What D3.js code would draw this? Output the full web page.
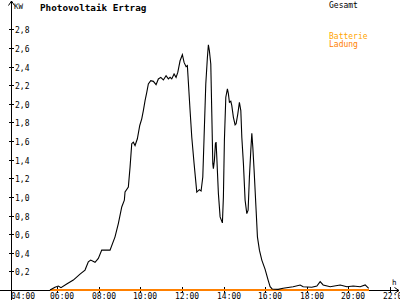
<!DOCTYPE html>
<html><head><meta charset="utf-8">
<script src="https://cdn.jsdelivr.net/npm/d3@7"></script>
<style>body{margin:0;background:#fff}svg{display:block}text{font-family:"DejaVu Sans Mono",monospace}</style>
</head><body><svg id="c" width="400" height="300"></svg>
<script>
// Gesamt (total power, kW) – time in hours
const gesamtTimes = [5.663,5.904,6.063,6.192,6.466,6.784,7.106,7.346,7.505,7.620,7.827,7.986,8.149,8.548,8.788,8.947,9.111,9.236,9.269,9.428,9.510,9.591,9.668,9.750,9.861,9.976,10.072,10.149,10.231,10.313,10.389,10.505,10.630,10.760,10.870,10.986,11.111,11.240,11.351,11.433,11.514,11.625,11.721,11.803,11.913,12.024,12.106,12.202,12.264,12.394,12.476,12.587,12.716,12.841,12.923,13.005,13.067,13.149,13.226,13.274,13.322,13.389,13.438,13.486,13.514,13.563,13.611,13.644,13.678,13.755,13.837,13.947,13.995,14.043,14.111,14.188,14.236,14.284,14.351,14.399,14.476,14.558,14.606,14.688,14.764,14.832,14.880,14.957,15.038,15.120,15.183,15.245,15.312,15.361,15.409,15.471,15.567,15.630,15.726,15.841,16.000,16.144,16.240,16.337,16.625,16.865,17.346,17.683,17.827,18.245,18.486,18.644,18.788,19.125,19.606,19.928,20.231,20.567,20.808,20.976];
const gesamtValues = [0,0.029,0.043,0.025,0.064,0.107,0.171,0.214,0.303,0.321,0.297,0.339,0.428,0.428,0.571,0.714,0.892,0.964,1.052,1.106,1.320,1.571,1.588,1.552,1.624,1.767,1.838,1.927,2.034,2.123,2.213,2.248,2.241,2.206,2.267,2.284,2.256,2.302,2.267,2.284,2.267,2.320,2.284,2.337,2.462,2.527,2.444,2.398,2.409,1.927,1.641,1.357,1.052,1.078,1.063,1.213,1.641,2.213,2.498,2.634,2.570,2.427,1.892,1.357,1.303,1.392,1.571,1.588,1.427,1.035,0.785,0.721,0.999,1.606,2.070,2.160,2.106,2.016,2.027,1.981,1.855,1.774,1.785,1.892,2.016,1.927,1.641,1.357,0.964,0.821,0.857,1.213,1.499,1.684,1.534,1.285,0.857,0.571,0.428,0.321,0.222,0.107,0.035,0.011,0.007,0.018,0.035,0.054,0.035,0.029,0.043,0.089,0.054,0.035,0.054,0.035,0.043,0.035,0.054,0.018];
// Ladung (charging) – flat zero
const ladungTimes = [5.663, 20.976];
const ladungValues = [0, 0];
const yTicks = [0.2,0.4,0.6,0.8,1.0,1.2,1.4,1.6,1.8,2.0,2.2,2.4,2.6,2.8];
const yTickLabels = ["0,2","0,4","0,6","0,8","1,0","1,2","1,4","1,6","1,8","2,0","2,2","2,4","2,6","2,8"];
const xTicks = [4,6,8,10,12,14,16,18,20,22];
const xTickLabels = ["04:00","06:00","08:00","10:00","12:00","14:00","16:00","18:00","20:00","22:00"];
const legendLabels = ["Gesamt","Batterie","Ladung"];
const legendColors = ["#000000","#ffa500","#ff8000"];

const svg = d3.select("#c");
const axX = 11.5, axY = 290.5;
const x = d3.scaleLinear().domain([6, 22]).range([57, 390]);
const y = d3.scaleLinear().domain([0, 2.8]).range([290, 29.3]);

const g = svg.append("g").attr("shape-rendering","crispEdges");
// axes lines
g.append("line").attr("x1",axX).attr("x2",axX).attr("y1",1).attr("y2",300).attr("stroke","#000");
g.append("line").attr("x1",0).attr("x2",399).attr("y1",axY).attr("y2",axY).attr("stroke","#000");
// arrows
svg.append("path").attr("d",`M${axX-3},5.5 L${axX},1 L${axX+3},5.5`).attr("fill","none").attr("stroke","#000");
svg.append("path").attr("d",`M394.5,${axY-3} L399,${axY} L394.5,${axY+3}`).attr("fill","none").attr("stroke","#000");

// y ticks
yTicks.forEach((t,i)=>{
  const yy = Math.round(y(t))+0.5;
  g.append("line").attr("x1",9).attr("x2",14).attr("y1",yy).attr("y2",yy).attr("stroke","#000");
  svg.append("text").attr("x",15).attr("y",yy+3).attr("font-size","8px").text(yTickLabels[i]);
});
// x ticks
xTicks.forEach((t,i)=>{
  const xx = Math.round(x(t))+0.5;
  if (t>4) g.append("line").attr("x1",xx).attr("x2",xx).attr("y1",287).attr("y2",293).attr("stroke","#000");
  svg.append("text").attr("x",Math.max(11, xx-7.5)).attr("y",299).attr("font-size","8px").text(xTickLabels[i]);
});
svg.append("text").attr("x",14).attr("y",8.5).attr("font-size","7.5px").text("KW");
svg.append("text").attr("x",392).attr("y",285).attr("font-size","7.5px").text("h");

// title
svg.append("text").attr("x",40).attr("y",11).attr("font-size","9.3px").attr("font-weight","bold").text("Photovoltaik Ertrag");

// legend
[8,39,46.5].forEach((yy,i)=>{
  svg.append("text").attr("x",329).attr("y",yy).attr("font-size","8px").attr("fill",legendColors[i]).text(legendLabels[i]);
});

// series
const line = d3.line().x(d=>x(d[0])).y(d=>y(d[1]));
svg.append("path").datum(d3.zip(ladungTimes, ladungValues)).attr("d",line)
  .attr("fill","none").attr("stroke","#ff8000").attr("stroke-width",2).attr("shape-rendering","crispEdges");
svg.append("path").datum(d3.zip(gesamtTimes, gesamtValues)).attr("d",line)
  .attr("fill","none").attr("stroke","#000").attr("stroke-width",1.1);
</script></body></html>
